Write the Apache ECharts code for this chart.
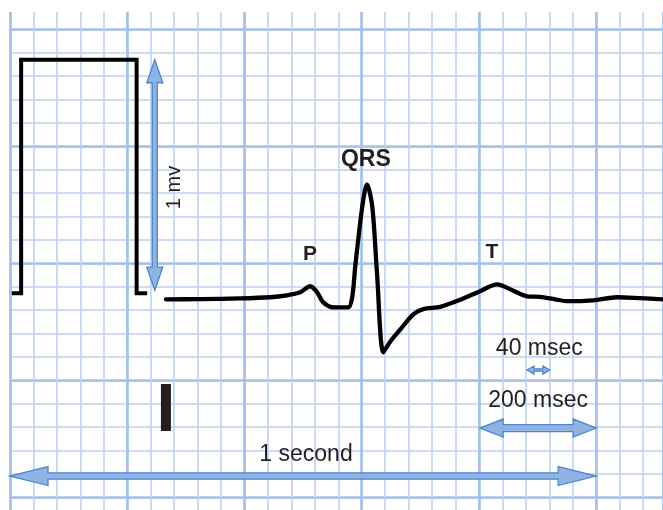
<!DOCTYPE html>
<html><head><meta charset="utf-8">
<script src="https://cdn.jsdelivr.net/npm/echarts@6/dist/echarts.min.js"></script>
<style>html,body{margin:0;padding:0;background:#fff}#c{width:663px;height:510px}</style>
</head><body><div id="c"></div>
<script>
// ---- data (time in ms, amplitude in mV) ----
const calTime = [3, 19, 19, 216, 216, 234];
const calMv   = [-0.128, -0.128, 0.870, 0.870, -0.128, -0.128];

const ecgTime = [266, 324, 393, 444, 472, 495, 512, 524, 534, 551, 577, 584, 589, 601, 609, 618, 626, 637, 648, 666, 688, 705, 734, 768, 802, 831, 857, 882, 904, 930, 951, 995, 1036, 1075, 1114];
const ecgMv   = [-0.154, -0.153, -0.150, -0.145, -0.137, -0.124, -0.098, -0.124, -0.166, -0.188, -0.188, -0.141, -0.013, 0.243, 0.337, 0.243, -0.038, -0.380, -0.337, -0.282, -0.218, -0.196, -0.186, -0.156, -0.119, -0.090, -0.115, -0.141, -0.143, -0.154, -0.162, -0.158, -0.145, -0.149, -0.154];

const barTime = [266, 266];
const barMv   = [-0.516, -0.717];

const arrowNames = ['1 mv', '40 msec', '200 msec', '1 second'];
const arrowStartTime = [247, 882, 802, 0];
const arrowStartMv   = [0.870, -0.456, -0.704, -0.909];
const arrowEndTime   = [247, 921, 1000, 1000];
const arrowEndMv     = [-0.115, -0.456, -0.704, -0.909];

const labelText = ['P', 'QRS', 'T', '1 mv', '40 msec', '200 msec', '1 second'];
const labelTime = [512, 607, 822, 280, 903, 901, 505];
const labelMv   = [0.038, 0.444, 0.047, 0.324, -0.363, -0.589, -0.819];

// ---- styles ----
const headLen   = [23, 7, 23, 38];
const headHalf  = [8, 4, 9, 9.5];
const shaftHalf = [2.5, 1.2, 3.5, 3.2];
const labelBold = [true, true, true, false, false, false, false];
const labelRot  = [0, 0, 0, 90, 0, 0, 0];
const labelSize = [21, 23, 21, 20, 23, 23, 23];

const FONT = '"Liberation Sans", Arial, Helvetica, sans-serif';
const minorColor = '#bdd1f0';
const majorColor = '#a6c0e8';

function axisBase(extra) {
  return Object.assign({
    type: 'value', show: true,
    axisLine: {show: false}, axisTick: {show: false}, axisLabel: {show: false}
  }, extra);
}

const chart = echarts.init(document.getElementById('c'), null, {renderer: 'canvas'});
chart.setOption({
  animation: false,
  backgroundColor: '#ffffff',
  grid: {left: 10, top: 12, width: 653, height: 602.3, containLabel: false, outerBoundsMode: 'none'},
  xAxis: [
    axisBase({min: 0, max: 1114, interval: 40, position: 'bottom',
      splitLine: {show: true, lineStyle: {color: minorColor, width: 1.6}}}),
    axisBase({min: 0, max: 1114, interval: 200, position: 'top',
      splitLine: {show: true, lineStyle: {color: majorColor, width: 2.6}}})
  ],
  yAxis: [
    axisBase({min: -1.5, max: 1.074, interval: 0.1, position: 'left',
      splitLine: {show: true, showMaxLine: false, lineStyle: {color: minorColor, width: 1.6}}}),
    axisBase({min: -1.5, max: 1.074, interval: 0.5, position: 'right',
      splitLine: {show: true, showMaxLine: false, lineStyle: {color: majorColor, width: 2.6}}})
  ],
  series: [
    {
      type: 'custom', name: 'arrows', xAxisIndex: 0, yAxisIndex: 0, z: 3,
      data: arrowNames.map((n, i) => ({name: n, value: [arrowStartTime[i], arrowStartMv[i], arrowEndTime[i], arrowEndMv[i]]})),
      renderItem: function (params, api) {
        const i = params.dataIndex;
        const A = api.coord([api.value(0), api.value(1)]);
        const B = api.coord([api.value(2), api.value(3)]);
        const dx = B[0] - A[0], dy = B[1] - A[1];
        const len = Math.sqrt(dx * dx + dy * dy);
        const d = [dx / len, dy / len];
        const n = [-d[1], d[0]];
        const L = headLen[i], H = headHalf[i], S = shaftHalf[i];
        const p = (base, a, b) => [base[0] + d[0] * a + n[0] * b, base[1] + d[1] * a + n[1] * b];
        const pts = [
          A, p(A, L, H), p(A, L, S), p(B, -L, S), p(B, -L, H), B,
          p(B, -L, -H), p(B, -L, -S), p(A, L, -S), p(A, L, -H)
        ];
        return {
          type: 'polygon',
          shape: {points: pts},
          style: {fill: '#8fb3e2', stroke: '#4f86c9', lineWidth: 1.3, lineJoin: 'miter'}
        };
      }
    },
    {
      type: 'line', name: 'calibration', xAxisIndex: 0, yAxisIndex: 0, z: 4,
      data: calTime.map((t, i) => [t, calMv[i]]),
      showSymbol: false, symbol: 'none',
      lineStyle: {color: '#000', width: 4, join: 'miter', cap: 'butt'}
    },
    {
      type: 'line', name: 'ecg', xAxisIndex: 0, yAxisIndex: 0, z: 4,
      data: ecgTime.map((t, i) => [t, ecgMv[i]]),
      showSymbol: false, symbol: 'none', smooth: 0.3,
      lineStyle: {color: '#000', width: 4.3, join: 'round', cap: 'round'}
    },
    {
      type: 'line', name: 'marker', xAxisIndex: 0, yAxisIndex: 0, z: 4,
      data: barTime.map((t, i) => [t, barMv[i]]),
      showSymbol: false, symbol: 'none',
      lineStyle: {color: '#231f20', width: 10, cap: 'butt'}
    },
    {
      type: 'scatter', name: 'labels', xAxisIndex: 0, yAxisIndex: 0, z: 5,
      symbolSize: 0, itemStyle: {color: '#231f20'},
      data: labelText.map((t, i) => ({
        name: t, value: [labelTime[i], labelMv[i]],
        label: {
          show: true, position: 'inside', formatter: t,
          rotate: labelRot[i],
          fontWeight: labelBold[i] ? 'bold' : 'normal',
          fontSize: labelSize[i],
          fontFamily: FONT, color: '#231f20',
          textBorderWidth: 0, textBorderColor: 'transparent', opacity: 1
        }
      }))
    }
  ]
});
</script>
</body></html>
